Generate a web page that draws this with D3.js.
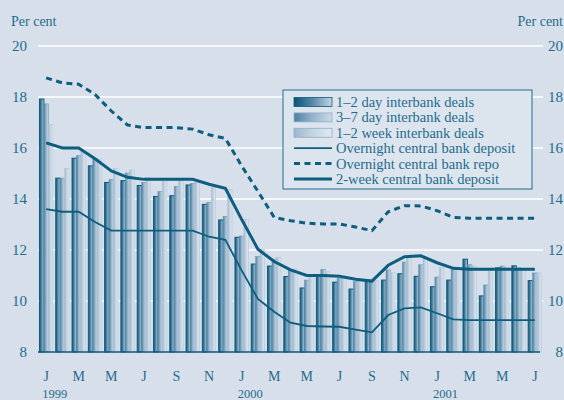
<!DOCTYPE html>
<html>
<head>
<meta charset="utf-8">
<script src="https://cdn.jsdelivr.net/npm/d3@7"></script>
<style>
  html, body { margin: 0; padding: 0; background: #d7dfea; }
  svg { display: block; }
  text { font-family: "Liberation Serif", "Times New Roman", serif; fill: #1f6c8d; }
</style>
</head>
<body>
<svg id="chart" width="564" height="400"></svg>
<script>
// ---- Data ----
const months = d3.range(31).map(i => i); // Jan 1999 .. Jul 2001
const monthTickLabels = ["J","M","M","J","S","N","J","M","M","J","S","N","J","M","M","J"];
const yearLabels = ["1999","2000","2001"];
const yTicks = [8, 10, 12, 14, 16, 18, 20];

const day12 = [17.92,14.82,15.6,15.3,14.65,14.72,14.53,14.1,14.13,14.55,13.79,13.18,12.5,11.45,11.37,10.96,10.51,10.97,10.74,10.47,10.77,10.82,11.07,10.97,10.56,10.82,11.64,10.2,11.3,11.38,10.8];
const day37 = [17.73,14.82,15.7,15.58,14.77,15.02,14.65,14.29,14.5,14.61,13.86,13.32,12.55,11.75,11.64,11.22,10.82,11.24,10.89,10.76,10.82,11.22,11.53,11.42,10.94,11.24,11.42,10.63,11.37,11.3,11.1];
const week12 = [16.93,15.2,15.85,15.57,15.2,15.14,14.85,14.68,14.72,14.65,14.45,14.38,13.2,12.03,11.72,11.26,10.95,11.15,10.93,10.79,10.8,11.11,11.71,11.66,11.32,11.24,11.37,11.19,11.33,11.24,11.1];

const overnightDeposit = [13.6,13.5,13.5,13.1,12.76,12.76,12.76,12.76,12.76,12.76,12.52,12.4,11.2,10.08,9.58,9.15,9.02,9.0,8.99,8.88,8.77,9.45,9.71,9.75,9.52,9.28,9.25,9.25,9.25,9.25,9.25];
const overnightRepo = [18.75,18.55,18.5,18.1,17.45,16.9,16.8,16.8,16.8,16.74,16.52,16.38,15.3,14.3,13.28,13.15,13.05,13.02,13.02,12.9,12.76,13.5,13.74,13.73,13.54,13.28,13.25,13.25,13.25,13.25,13.25];
const twoWeekDeposit = [16.2,16.0,16.0,15.58,15.1,14.85,14.77,14.77,14.77,14.77,14.58,14.42,13.2,12.03,11.55,11.22,11.0,11.0,10.97,10.85,10.78,11.4,11.74,11.77,11.5,11.28,11.25,11.25,11.25,11.25,11.25];

const barSeries = [
  { name: "1–2 day interbank deals", values: day12, grad: "g1" },
  { name: "3–7 day interbank deals", values: day37, grad: "g2" },
  { name: "1–2 week interbank deals", values: week12, grad: "g3" }
];

// ---- Setup ----
const svg = d3.select("#chart");
const plotL = 38, plotR = 543, plotT = 46, plotB = 352;
const dark = "#0c5d7e";

const x = d3.scaleBand().domain(months).range([plotL, plotR]).paddingInner(0.18).paddingOuter(0.09);
const x1 = d3.scaleBand().domain([0,1,2]).range([0, x.bandwidth()]).padding(0);
const y = d3.scaleLinear().domain([8, 20]).range([plotB, plotT]);
const cx = i => x(i) + x.bandwidth() / 2;

// gradients
const defs = svg.append("defs");
const gradStops = {
  g1: ["#0b5576", "#4f84a4", "#c3d4e3"],
  g2: ["#4d80a1", "#8fb0c8", "#ccd9e6"],
  g3: ["#9db6cc", "#c3d3e1", "#e0e8f0"]
};
Object.entries(gradStops).forEach(([id, cols]) => {
  const g = defs.append("linearGradient").attr("id", id).attr("x1", "0").attr("x2", "1").attr("y1", "0").attr("y2", "0");
  g.append("stop").attr("offset", "0").attr("stop-color", cols[0]);
  g.append("stop").attr("offset", "0.45").attr("stop-color", cols[1]);
  g.append("stop").attr("offset", "1").attr("stop-color", cols[2]);
});

// gridlines
svg.append("g").selectAll("line").data(yTicks.filter(t => t > 8)).join("line")
  .attr("x1", plotL).attr("x2", plotR)
  .attr("y1", d => y(d)).attr("y2", d => y(d))
  .attr("stroke", "#ffffff").attr("stroke-width", 1.6);

// y labels left & right
svg.append("g").selectAll("text").data(yTicks).join("text")
  .attr("x", 27).attr("y", d => y(d)).attr("dy", "0.35em")
  .attr("text-anchor", "end").attr("font-size", 15).text(d => d);
svg.append("g").selectAll("text").data(yTicks).join("text")
  .attr("x", 563).attr("y", d => y(d)).attr("dy", "0.35em")
  .attr("text-anchor", "end").attr("font-size", 15).text(d => d);
svg.append("text").attr("x", 11).attr("y", 26).attr("font-size", 14).text("Per cent");
svg.append("text").attr("x", 563).attr("y", 26).attr("font-size", 14).attr("text-anchor", "end").text("Per cent");

// bars
barSeries.forEach((s, si) => {
  svg.append("g").selectAll("rect").data(months).join("rect")
    .attr("x", i => x(i) + x1(si))
    .attr("width", x1.bandwidth())
    .attr("y", i => y(s.values[i]))
    .attr("height", i => y(8) - y(s.values[i]))
    .attr("fill", `url(#${s.grad})`)
    .attr("stroke", si === 0 ? dark : (si === 1 ? "#6f97b3" : "#b3c6d7"))
    .attr("stroke-width", si === 0 ? 1 : 0.6);
});

// x axis baseline
svg.append("line").attr("x1", plotL).attr("x2", plotR - 3).attr("y1", y(8)).attr("y2", y(8))
  .attr("stroke", dark).attr("stroke-width", 1.5);

// lines
const line = d3.line().x((d, i) => cx(i)).y(d => y(d));
svg.append("path").datum(overnightDeposit).attr("d", line)
  .attr("fill", "none").attr("stroke", dark).attr("stroke-width", 1.8);
svg.append("path").datum(overnightRepo).attr("d", line)
  .attr("fill", "none").attr("stroke", dark).attr("stroke-width", 3).attr("stroke-dasharray", "6,4.5");
svg.append("path").datum(twoWeekDeposit).attr("d", line)
  .attr("fill", "none").attr("stroke", dark).attr("stroke-width", 3);

// x labels
const tickMonths = months.filter(i => i % 2 === 0);
svg.append("g").selectAll("text").data(tickMonths).join("text")
  .attr("x", i => cx(i)).attr("y", 381).attr("text-anchor", "middle").attr("font-size", 14)
  .text((d, k) => monthTickLabels[k]);
svg.append("g").selectAll("text").data(yearLabels).join("text")
  .attr("x", (d, k) => cx(k * 12) - 4).attr("y", 397.5).attr("font-size", 12.5)
  .text(d => d);

// legend
const lg = svg.append("g");
lg.append("rect").attr("x", 283).attr("y", 90).attr("width", 249).attr("height", 99)
  .attr("fill", "#dce4ee").attr("stroke", "#1f6c8d").attr("stroke-width", 1);
const legendItems = [
  { name: barSeries[0].name, type: "bar", grad: "g1" },
  { name: barSeries[1].name, type: "bar", grad: "g2" },
  { name: barSeries[2].name, type: "bar", grad: "g3" },
  { name: "Overnight central bank deposit", type: "thin" },
  { name: "Overnight central bank repo", type: "dash" },
  { name: "2-week central bank deposit", type: "thick" }
];
legendItems.forEach((it, k) => {
  const cy = 102 + k * 15.4;
  if (it.type === "bar") {
    lg.append("rect").attr("x", 294).attr("y", cy - 4.5).attr("width", 38).attr("height", 9)
      .attr("fill", `url(#${it.grad})`).attr("stroke", k === 0 ? dark : "#8fb0c8").attr("stroke-width", 0.8);
  } else {
    const l = lg.append("line").attr("x1", 294).attr("x2", 332).attr("y1", cy).attr("y2", cy).attr("stroke", dark);
    if (it.type === "thin") l.attr("stroke-width", 1.8);
    if (it.type === "dash") l.attr("stroke-width", 3).attr("stroke-dasharray", "6,4.5");
    if (it.type === "thick") l.attr("stroke-width", 3);
  }
  lg.append("text").attr("x", 336).attr("y", cy + 5).attr("font-size", 14.5).text(it.name);
});
</script>
</body>
</html>
